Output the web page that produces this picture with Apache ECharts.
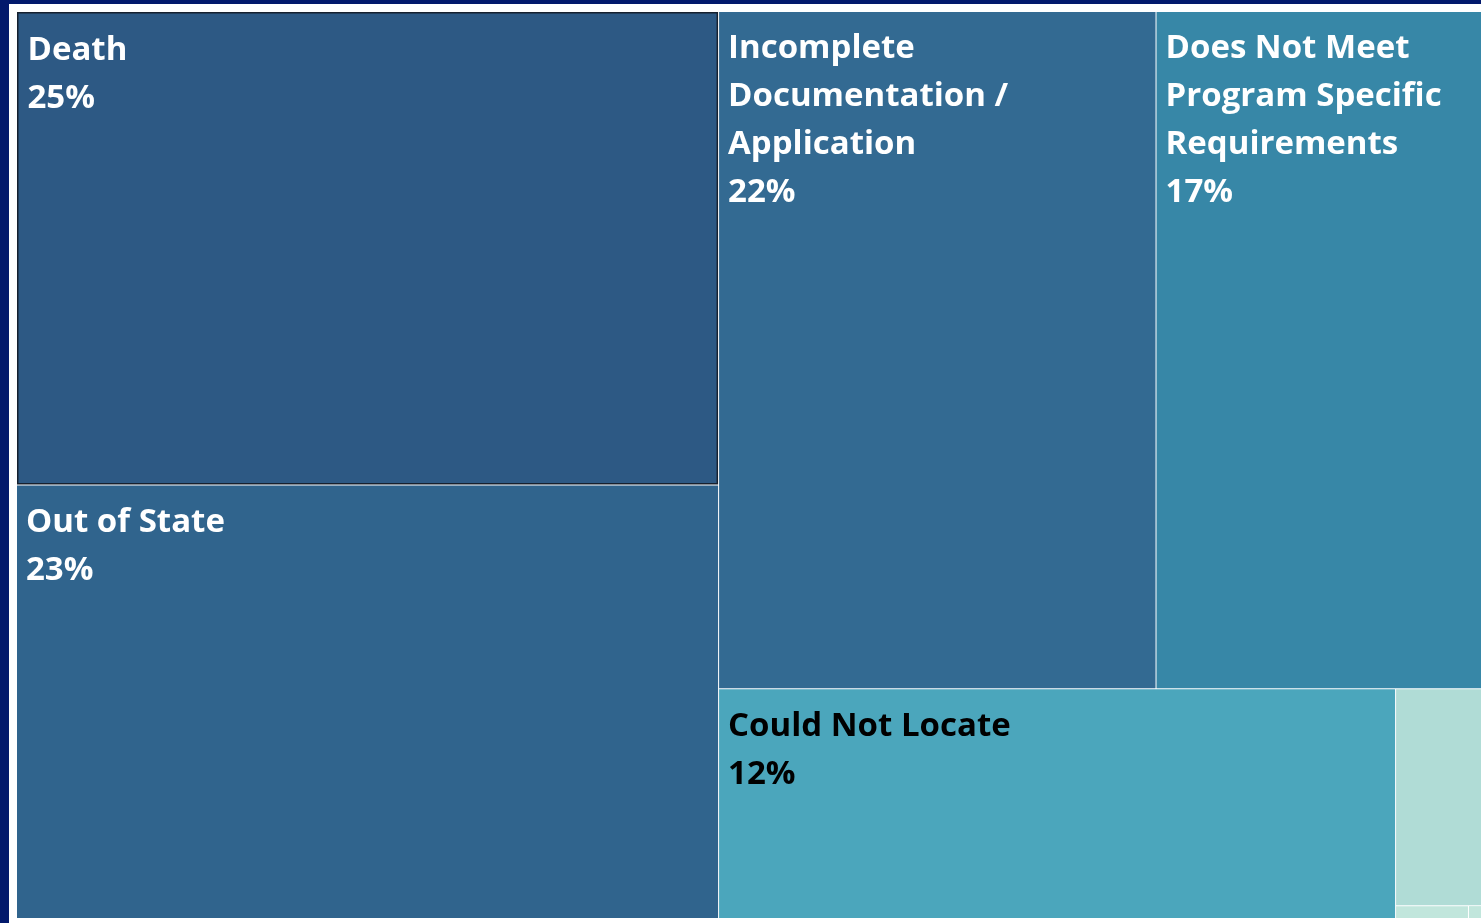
<!DOCTYPE html>
<html>
<head>
<meta charset="utf-8">
<script src="https://cdn.jsdelivr.net/npm/echarts@6/dist/echarts.min.js"></script>
<style>
  html, body { margin: 0; padding: 0; background: #02196c; overflow: hidden; }
  #chart { position: absolute; left: 9px; top: 4px; width: 1472px; height: 919px; background: #ffffff; }
</style>
</head>
<body>
<div id="chart"></div>
<script>
// reasons for denial, share of cases (%)
const categories = [
    'Death',
    'Out of State',
    'Incomplete\nDocumentation /\nApplication',
    'Does Not Meet\nProgram Specific\nRequirements',
    'Could Not Locate',
    'Other 1',
    'Other 2',
    'Other 3'
];
const shares = [24.8, 22.7, 22.1, 17.1, 11.6, 1.6, 0.07, 0.025];
const cellColors = ['#2d5984', '#30648d', '#336a92', '#3787a7', '#4ba6bc', '#b0dcd6', '#c1e6dc', '#c1e6dc'];
const textColors = ['#ffffff', '#ffffff', '#ffffff', '#ffffff', '#000000', '#000000', '#000000', '#000000'];

const myChart = echarts.init(document.getElementById('chart'));

const seriesData = categories.map((name, i) => {
    const item = {
        name: name,
        value: shares[i],
        itemStyle: { color: cellColors[i] },
        label: { color: textColors[i], show: shares[i] > 5 }
    };
    // Death cell is outlined (selected)
    if (i === 0) {
        item.itemStyle.borderColor = '#16202e';
        item.itemStyle.borderWidth = 1.5;
    }
    return item;
});

const option = {
    animation: false,
    series: [
        {
            type: 'treemap',
            left: 8,
            top: 8,
            width: 1477,
            height: 906,
            roam: false,
            nodeClick: false,
            breadcrumb: { show: false },
            levels: [
                { itemStyle: { gapWidth: 1, borderWidth: 0, borderColor: '#ffffff' } }
            ],
            itemStyle: { borderWidth: 0, gapWidth: 0 },
            label: {
                position: 'insideTopLeft',
                distance: 0,
                padding: [13, 9],
                fontFamily: 'Open Sans',
                fontWeight: 'bold',
                fontSize: 33,
                lineHeight: 48,
                formatter: p => p.name + '\n' + Math.round(p.value) + '%'
            },
            data: seriesData
        }
    ]
};

myChart.setOption(option);
</script>
</body>
</html>
